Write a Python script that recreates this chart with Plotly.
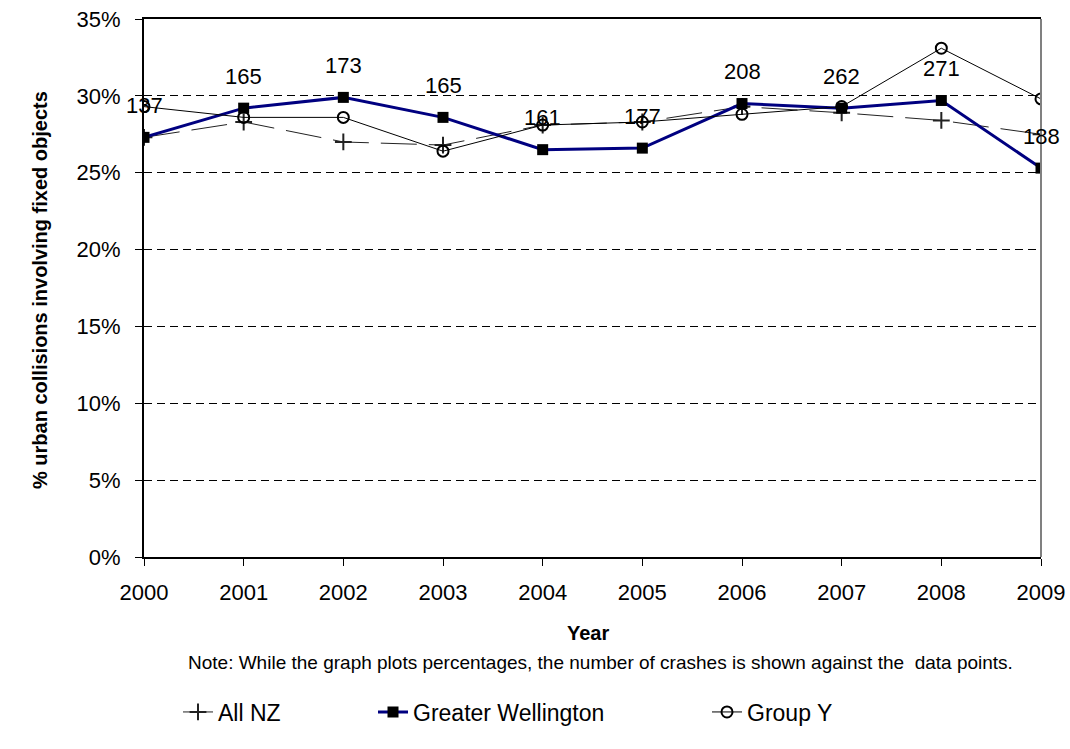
import plotly.graph_objects as go

years = [2000, 2001, 2002, 2003, 2004, 2005, 2006, 2007, 2008, 2009]
all_nz = [27.3, 28.3, 27.0, 26.8, 28.1, 28.3, 29.3, 28.9, 28.4, 27.5]
greater_wellington = [27.3, 29.2, 29.9, 28.6, 26.5, 26.6, 29.5, 29.2, 29.7, 25.3]
group_y = [29.3, 28.6, 28.6, 26.4, 28.1, 28.3, 28.8, 29.3, 33.1, 29.8]
crash_counts = [137, 165, 173, 165, 161, 177, 208, 262, 271, 188]
y_ticks = [0, 5, 10, 15, 20, 25, 30, 35]
y_tick_labels = ["0%", "5%", "10%", "15%", "20%", "25%", "30%", "35%"]

FONT = "Liberation Sans, Arial, sans-serif"
W, H = 1070, 749
L, R, T, B = 144, 1041, 19, 557


def px(xp):
    return (xp - L) / (R - L)


def py(yp):
    return (B - yp) / (B - T)


fig = go.Figure()
fig.add_trace(go.Scatter(
    x=years, y=all_nz, name="All NZ", mode="lines+markers", legendwidth=150,
    line=dict(color="#222222", width=1, dash="36px,12px"),
    marker=dict(symbol="cross-thin-open", size=12, line=dict(color="black", width=2)),
))
fig.add_trace(go.Scatter(
    x=years, y=greater_wellington, name="Greater Wellington", mode="lines+markers",
    legendwidth=289,
    line=dict(color="#000080", width=3),
    marker=dict(symbol="square", size=11, color="black"),
))
fig.add_trace(go.Scatter(
    x=years, y=group_y, name="Group Y", mode="lines+markers",
    line=dict(color="black", width=1),
    marker=dict(symbol="circle-open", size=11, color="black", line=dict(width=2)),
))

annotations = []
for yr, v, c in zip(years, greater_wellington, crash_counts):
    annotations.append(dict(x=yr, y=v, text=str(c), showarrow=False, yshift=32,
                            font=dict(size=22, color="black", family=FONT)))

annotations.append(dict(xref="paper", yref="paper", x=px(588), y=py(633),
                        xanchor="center", yanchor="middle",
                        text="<b>Year</b>", showarrow=False,
                        font=dict(size=20, color="black", family=FONT)))
annotations.append(dict(xref="paper", yref="paper", x=px(600), y=py(662),
                        xanchor="center", yanchor="middle",
                        text="Note: While the graph plots percentages, the number of crashes is shown against the  data points.",
                        showarrow=False, font=dict(size=19, color="black", family=FONT)))
annotations.append(dict(xref="paper", yref="paper", x=px(40), y=py(290),
                        xanchor="center", yanchor="middle",
                        text="<b>% urban collisions involving fixed objects</b>", textangle=-90,
                        showarrow=False, font=dict(size=20, color="black", family=FONT)))

fig.update_layout(
    annotations=annotations,
    shapes=[dict(type="line", xref="paper", yref="paper", x0=1, x1=1, y0=0, y1=1,
                 line=dict(color="#808080", width=2))],
    width=W, height=H,
    margin=dict(l=L, r=W - R, t=T, b=H - B, autoexpand=False),
    paper_bgcolor="white", plot_bgcolor="white",
    font=dict(family=FONT, size=22, color="black"),
    showlegend=True,
    legend=dict(orientation="h", xref="container", yref="container",
                x=178 / W, xanchor="left", y=1 - 712 / H, yanchor="middle",
                font=dict(size=23, color="black", family=FONT),
                bgcolor="rgba(0,0,0,0)"),
    xaxis=dict(range=[2000, 2009], tickvals=years, ticktext=[str(y) for y in years],
               showgrid=False, zeroline=False, showline=True, linecolor="black", linewidth=2,
               mirror=True, ticks="outside", ticklen=7, tickcolor="black",
               ticklabelstandoff=8, automargin=False,
               tickfont=dict(size=22)),
    yaxis=dict(range=[0, 35], tickvals=y_ticks, ticktext=y_tick_labels,
               showgrid=True, gridcolor="black", griddash="8px,5px", gridwidth=1,
               zeroline=False, showline=True, linecolor="black", linewidth=2,
               mirror=False, ticks="outside", ticklen=7, tickcolor="black",
               ticklabelstandoff=10, automargin=False,
               tickfont=dict(size=22)),
)

fig.write_html("out.html", config={"displayModeBar": False},
               post_script="document.body.style.margin='0px';")
